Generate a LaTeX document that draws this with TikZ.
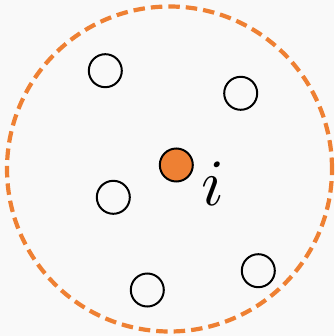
\documentclass[tikz,border=0pt]{standalone}
\usepackage{tikz}
\usetikzlibrary{positioning}
\definecolor{bg}{HTML}{F9F9F9}
\definecolor{accent}{HTML}{EE8033}
\definecolor{ink}{HTML}{000000}
\tikzset{
  nbr/.style={circle, draw=ink, line width=2pt, minimum size=33pt, inner sep=0pt},
  self/.style={nbr, fill=accent},
}

\begin{document}
\begin{tikzpicture}[x=1pt, y=-1pt]
    \fill[bg] (0,0) rectangle (334,336);
    \useasboundingbox (0,0) rectangle (334,336);
    % neighbourhood
    \node[circle, draw=accent, line width=4.2pt, dash pattern=on 11.5pt off 6pt,
          minimum size=325pt, inner sep=0pt] (hood) at (169.5,169) {};
    % points
    \foreach \n/\p in {a/{(105.3,70.7)}, b/{(240.7,93.3)}, c/{(113.3,197.3)},
                       d/{(147.3,290)}, e/{(258.3,270.7)}}
      \node[nbr] (\n) at \p {};
    \node[self] (i) at (176.3,165) {};
    \node[inner sep=0pt] (lab) at (213,184) {\scalebox{6.6}{$i$}};
  \end{tikzpicture}
\end{document}
